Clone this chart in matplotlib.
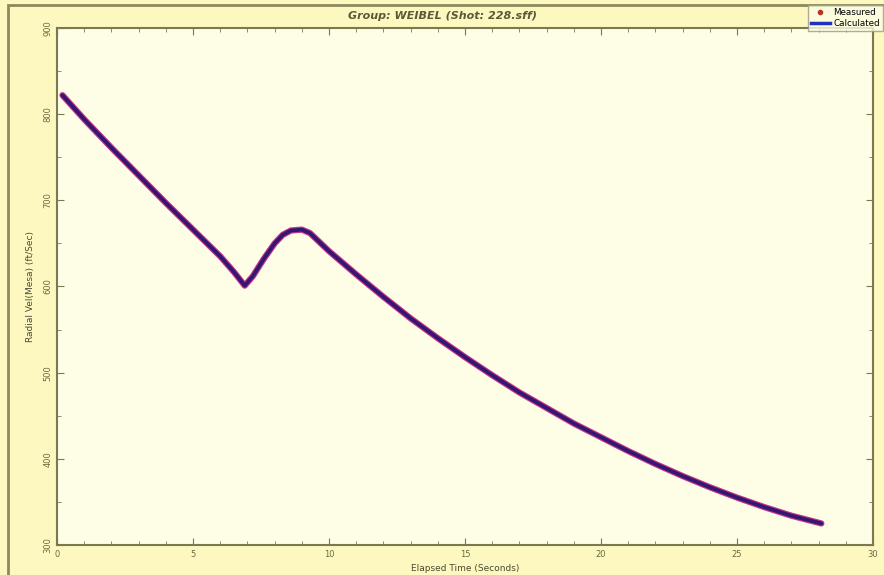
import numpy as np
import matplotlib
matplotlib.use("Agg")
import matplotlib.pyplot as plt
from matplotlib.patches import Rectangle
from matplotlib.ticker import MultipleLocator

# values
t = [0.2, 1.0, 2.0, 3.0, 4.0, 5.0, 6.0, 6.5, 6.9, 7.2, 7.6, 8.0, 8.3, 8.6,
     9.0, 9.3, 9.7, 10.0, 11.0, 12.0, 13.0, 14.0, 15.0, 16.0, 17.0, 18.0,
     19.0, 20.0, 21.0, 22.0, 23.0, 24.0, 25.0, 26.0, 27.0, 28.1]
vel = [822, 794, 761, 729, 697, 666, 635, 617, 601, 612, 632, 650, 660, 665,
       666, 662, 650, 641, 614, 588, 563, 540, 518, 497, 477, 459,
       441, 425, 409, 394, 380, 367, 355, 344, 334, 325]

xticks = [0, 5, 10, 15, 20, 25, 30]
yticks = [300, 400, 500, 600, 700, 800, 900]

fig = plt.figure(figsize=(8.84, 5.75), dpi=100, facecolor='#fdf8c0')
ax = fig.add_axes([0.0645, 0.0522, 0.9231, 0.8991], facecolor='#fefde6')

# outer frame, cut off at right and bottom
fig.patches.append(Rectangle((0.009, -0.05), 1.1, 1.041, transform=fig.transFigure,
                             fill=False, edgecolor='#8a8a5a', linewidth=2))

tt = np.array(t)
vv = np.array(vel)
ax.plot(tt, vv, color='#c8308a', linewidth=4.5, solid_capstyle='round',
        solid_joinstyle='round')
ax.plot(tt, vv, color='#321872', linewidth=2.8, solid_capstyle='round',
        solid_joinstyle='round')
# legend handles
h1, = ax.plot([], [], 'o', color='#c03020', markersize=3, label='Measured')
h2, = ax.plot([], [], '-', color='#2030c0', linewidth=2.5, label='Calculated')

ax.set_xlim(0, 30)
ax.set_ylim(300, 900)
ax.set_xticks(xticks)
ax.set_yticks(yticks)
ax.xaxis.set_minor_locator(MultipleLocator(1))
ax.yaxis.set_minor_locator(MultipleLocator(50))
ax.tick_params(which='both', direction='in', colors='#7a7a50', labelsize=6,
               top=True, right=True, labelcolor='#6a6a40')
ax.tick_params(which='major', length=5)
ax.tick_params(which='minor', length=3)
for lab in ax.get_yticklabels():
    lab.set_rotation(90)
    lab.set_va('center')
for s in ax.spines.values():
    s.set_color('#7a7a50')
    s.set_linewidth(1.5)

ax.set_xlabel('Elapsed Time (Seconds)', fontsize=6.5, color='#4a4a30', labelpad=4)
ax.set_ylabel('Radial Vel(Mesa) (ft/Sec)', fontsize=6.5, color='#4a4a30', labelpad=6)
fig.text(0.5, 0.972, 'Group: WEIBEL (Shot: 228.sff)', ha='center', va='center',
         fontsize=8, style='italic', fontweight='bold', color='#5a5a38')

leg = fig.legend(handles=[h1, h2], loc='upper right', bbox_to_anchor=(0.999, 0.992),
                 fontsize=6.3, frameon=True, fancybox=False, borderpad=0.35,
                 handlelength=2.2, handletextpad=0.4, labelspacing=0.3,
                 borderaxespad=0)
leg.get_frame().set_facecolor('#fefde6')
leg.get_frame().set_edgecolor('#9a9a80')

fig.savefig('out.png', dpi=100, facecolor=fig.get_facecolor())
